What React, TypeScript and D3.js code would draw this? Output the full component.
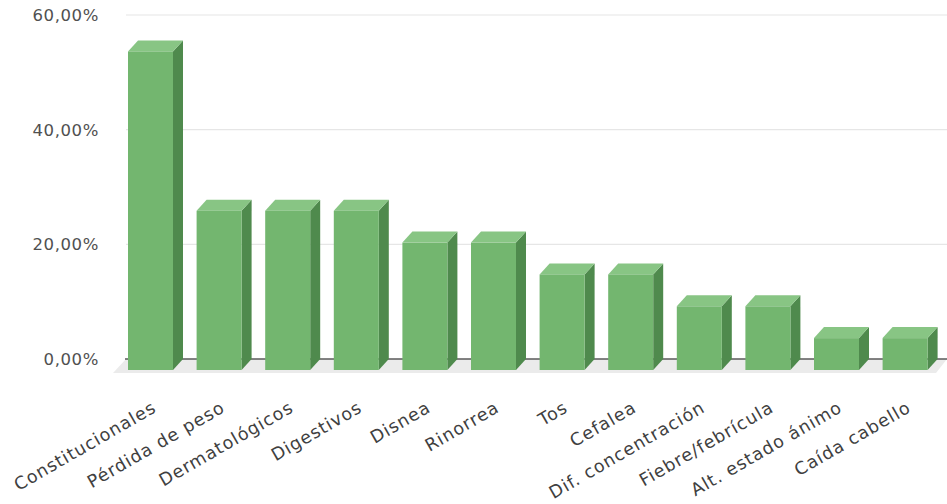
import React from "react";
import * as d3 from "d3";

// Symptom categories and the share of patients reporting each one
const categories = [
  "Constitucionales",
  "Pérdida de peso",
  "Dermatológicos",
  "Digestivos",
  "Disnea",
  "Rinorrea",
  "Tos",
  "Cefalea",
  "Dif. concentración",
  "Fiebre/febrícula",
  "Alt. estado ánimo",
  "Caída cabello",
];
const values = [55.56, 27.78, 27.78, 27.78, 22.22, 22.22, 16.67, 16.67, 11.11, 11.11, 5.56, 5.56];
const yTicks = [0, 20, 40, 60];
const fmtPct = (v: number) => v.toFixed(2).replace(".", ",") + "%";

const W = 947;
const H = 504;
// depth of the 3D projection (front face sits down-left of the back plane)
const DX = 10;
const DY = 11;

const C_FRONT = "#73b66f";
const C_TOP = "#88c584";
const C_SIDE = "#4f8a4d";

export default function App() {
  const x = d3
    .scaleBand<string>()
    .domain(categories)
    .range([128, 927.6])
    .paddingInner(0.344)
    .paddingOuter(0);
  const y = d3.scaleLinear().domain([0, 60]).range([359, 15]);
  const y0 = y(0);
  const bw = x.bandwidth();

  return (
    <svg
      width={W}
      height={H}
      style={{ position: "absolute", left: 0, top: 0, background: "#fff" }}
    >
      {/* gridlines on the back wall */}
      {yTicks
        .filter((t) => t > 0)
        .map((t) => (
          <line key={t} x1={126} x2={W} y1={y(t)} y2={y(t)} stroke="#e6e6e6" strokeWidth={1.2} />
        ))}
      {/* floor */}
      <polygon
        points={`126,${y0} ${W},${y0} ${W - 11},${y0 + 14} ${113},${y0 + 14}`}
        fill="#ebebeb"
      />
      <line x1={125} x2={W} y1={y0} y2={y0} stroke="#5a5a5a" strokeWidth={1.3} />

      {/* y-axis labels */}
      {yTicks.map((t) => (
        <text
          key={t}
          x={99}
          y={y(t)}
          dy="0.36em"
          textAnchor="end"
          fontFamily="DejaVu Sans, sans-serif"
          fontSize={16.5}
          letterSpacing={0.6}
          fill="#505050"
        >
          {fmtPct(t)}
        </text>
      ))}

      {/* bars */}
      {categories.map((c, i) => {
        const bx = x(c)!;
        const yb = y(values[i]);
        const yf = yb + DY;
        const yBottom = y0 + DY;
        return (
          <g key={c}>
            <polygon
              points={`${bx + bw},${yf} ${bx + bw + DX},${yb} ${bx + bw + DX},${y0} ${bx + bw},${yBottom}`}
              fill={C_SIDE}
            />
            <polygon
              points={`${bx},${yf} ${bx + DX},${yb} ${bx + bw + DX},${yb} ${bx + bw},${yf}`}
              fill={C_TOP}
            />
            <rect x={bx} y={yf} width={bw} height={yBottom - yf} fill={C_FRONT} />
          </g>
        );
      })}

      {/* rotated category labels */}
      {categories.map((c) => {
        const ax = x(c)! + bw / 2 + 7;
        const ay = 411;
        return (
          <text
            key={c}
            transform={`translate(${ax},${ay}) rotate(-30)`}
            textAnchor="end"
            fontFamily="DejaVu Sans, sans-serif"
            fontSize={17.5}
            letterSpacing={1}
            fill="#404040"
          >
            {c}
          </text>
        );
      })}
    </svg>
  );
}
